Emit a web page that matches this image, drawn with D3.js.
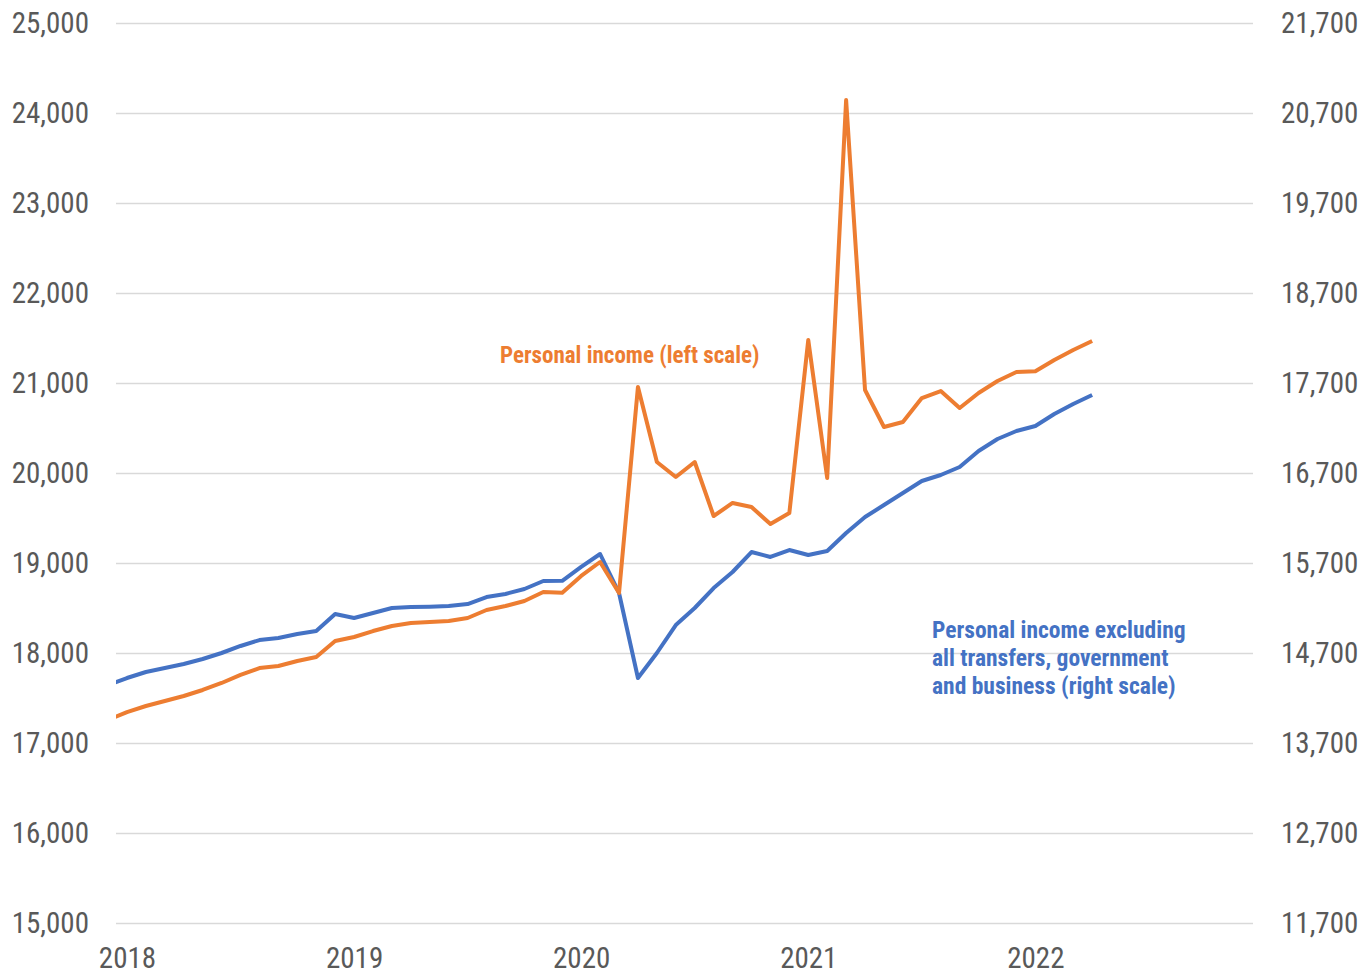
<!DOCTYPE html>
<html>
<head>
<meta charset="utf-8">
<script src="https://cdn.jsdelivr.net/npm/d3@7"></script>
<style>
  body { margin: 0; background: #fff; }
  svg text { font-family: "Liberation Sans Narrow", "Arial Narrow", "Roboto Condensed", "DejaVu Sans Condensed", sans-serif; }
</style>
</head>
<body>
<div id="chart"></div>
<script>

// monthly, Dec 2017 .. Apr 2022 (first point sits just outside the plot, clipped like the original)
var months = d3.timeMonth.range(new Date(2017, 11, 1), new Date(2022, 4, 1));

// Personal income, left scale
var personalIncome = [
  17255, 17344, 17411, 17467, 17522, 17589, 17667, 17756, 17833, 17856, 17911, 17956, 18133,
  18178, 18244, 18300, 18333, 18344, 18356, 18389, 18478, 18522, 18578, 18678, 18670,
  18856, 19011, 18667, 20956, 20122, 19956, 20122, 19522, 19667, 19622, 19433, 19556,
  21478, 19944, 24144, 20922, 20511, 20567, 20833, 20911, 20722, 20889, 21022, 21122,
  21130, 21256, 21367, 21467
];

// Personal income excluding all transfers, right scale
var incomeExTransfers = [
  14344, 14422, 14489, 14533, 14578, 14633, 14700, 14778, 14844, 14867, 14911, 14944, 15133,
  15089, 15144, 15200, 15211, 15215, 15222, 15244, 15322, 15356, 15411, 15500, 15502,
  15656, 15800, 15367, 14422, 14700, 15011, 15200, 15422, 15600, 15822, 15767, 15844,
  15789, 15833, 16033, 16211, 16344, 16478, 16611, 16678, 16767, 16944, 17078, 17167,
  17222, 17356, 17467, 17567
];

var leftTicks  = [15000, 16000, 17000, 18000, 19000, 20000, 21000, 22000, 23000, 24000, 25000];
var rightTicks = [11700, 12700, 13700, 14700, 15700, 16700, 17700, 18700, 19700, 20700, 21700];
var years = [2018, 2019, 2020, 2021, 2022];

var W = 1361, H = 974;
var margin = {left: 116, right: 1253, top: 23, bottom: 923};

var svg = d3.select("#chart").append("svg").attr("width", W).attr("height", H);

// month index, 0 = Jan 2018
function mIdx(d) { return (d.getFullYear() - 2018) * 12 + d.getMonth(); }

var x = d3.scaleLinear().domain([-0.58, 59.5]).range([margin.left, margin.right]);
var yL = d3.scaleLinear().domain([15000, 25000]).range([margin.bottom, margin.top]);
var yR = d3.scaleLinear().domain([11700, 21700]).range([margin.bottom, margin.top]);

// gridlines
var grid = svg.append("g")
  .attr("transform", `translate(${margin.left},0)`)
  .call(d3.axisLeft(yL).tickValues(leftTicks).tickSize(-(margin.right - margin.left)).tickFormat(""));
grid.select(".domain").remove();
grid.selectAll("line").attr("stroke", "#d9d9d9").attr("stroke-width", 1.5);

var fmt = d3.format(",");

var yAxisL = svg.append("g")
  .attr("transform", `translate(${margin.left},0)`)
  .call(d3.axisLeft(yL).tickValues(leftTicks).tickSize(0).tickPadding(27).tickFormat(fmt));
yAxisL.select(".domain").remove();

var yAxisR = svg.append("g")
  .attr("transform", `translate(${margin.right},0)`)
  .call(d3.axisRight(yR).tickValues(rightTicks).tickSize(0).tickPadding(28).tickFormat(fmt));
yAxisR.select(".domain").remove();

var xAxis = svg.append("g")
  .attr("transform", `translate(0,${margin.bottom})`)
  .call(d3.axisBottom(x).tickValues(years.map(y => (y - 2018) * 12)).tickSize(0).tickPadding(24)
    .tickFormat((d, i) => years[i]));
xAxis.select(".domain").remove();

svg.selectAll(".tick text").attr("font-size", 29).attr("fill", "#595959")
  .style("font-family", '"Liberation Sans Narrow", "Arial Narrow", "Roboto Condensed", "DejaVu Sans Condensed", sans-serif');

svg.append("clipPath").attr("id", "plot")
  .append("rect").attr("x", margin.left).attr("y", 0).attr("width", margin.right - margin.left).attr("height", H);

var lineL = d3.line().x((d, i) => x(mIdx(months[i]))).y(d => yL(d));
var lineR = d3.line().x((d, i) => x(mIdx(months[i]))).y(d => yR(d));

var lines = svg.append("g").attr("clip-path", "url(#plot)");

lines.append("path")
  .datum(incomeExTransfers)
  .attr("d", lineR)
  .attr("fill", "none")
  .attr("stroke", "#4472C4")
  .attr("stroke-width", 4)
  .attr("stroke-linejoin", "round");

lines.append("path")
  .datum(personalIncome)
  .attr("d", lineL)
  .attr("fill", "none")
  .attr("stroke", "#ED7D31")
  .attr("stroke-width", 4)
  .attr("stroke-linejoin", "round");

// annotations
svg.append("text")
  .attr("x", 500).attr("y", 363)
  .attr("font-size", 23).attr("font-weight", "bold").attr("fill", "#ED7D31")
  .text("Personal income (left scale)");

var blueNote = ["Personal income excluding", "all transfers, government", "and business (right scale)"];
svg.append("text")
  .attr("x", 932).attr("y", 638)
  .attr("font-size", 23.5).attr("font-weight", "bold").attr("fill", "#4472C4")
  .selectAll("tspan").data(blueNote).join("tspan")
  .attr("x", 932).attr("dy", (d, i) => i ? 28 : 0)
  .text(d => d);

</script>
</body>
</html>
